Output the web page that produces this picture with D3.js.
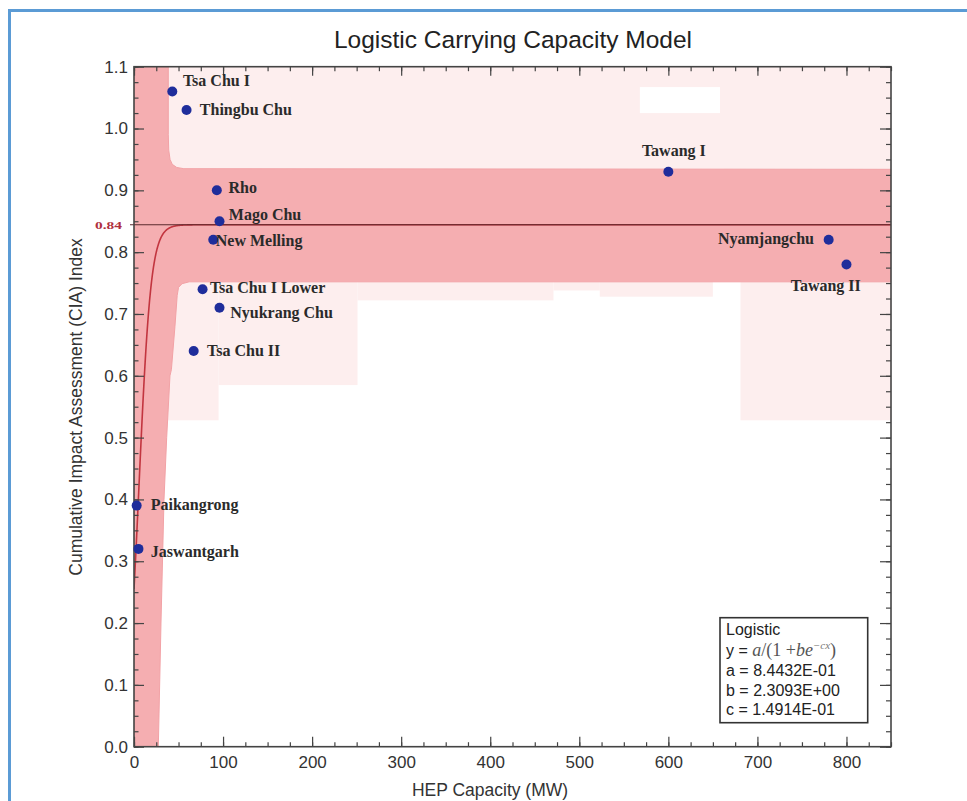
<!DOCTYPE html>
<html>
<head>
<meta charset="utf-8">
<script src="https://cdn.jsdelivr.net/npm/d3@7"></script>
<style>
  body { margin: 0; background: #fff; }
  svg { display: block; }
</style>
</head>
<body>
<svg id="chart" width="967" height="801"></svg>
<script>
// HEP projects: installed capacity (MW) against Cumulative Impact Assessment index
const projects = ["Tsa Chu I", "Thingbu Chu", "Rho", "Mago Chu", "New Melling", "Tsa Chu I Lower",
  "Nyukrang Chu", "Tsa Chu II", "Paikangrong", "Jaswantgarh", "Tawang I", "Nyamjangchu", "Tawang II"];
const capacityMW = [43, 59, 93, 96, 89, 77, 96, 67, 3, 5, 600, 780, 800];
const ciaIndex = [1.06, 1.03, 0.90, 0.85, 0.82, 0.74, 0.71, 0.64, 0.39, 0.32, 0.93, 0.82, 0.78];

// Logistic fit y = a / (1 + b e^(-c x))
const fitNames = ["a", "b", "c"];
const fitValues = [0.84432, 2.3093, 0.14914];

// Axis ticks
const xTicks = [0, 100, 200, 300, 400, 500, 600, 700, 800];
const yTicks = [0.0, 0.1, 0.2, 0.3, 0.4, 0.5, 0.6, 0.7, 0.8, 0.9, 1.0, 1.1];

// Prediction band outline (upper edge, then lower edge)
const bandUpperX = [38.5, 38.5, 39, 40.5, 43, 48, 56, 850];
const bandUpperY = [1.1, 0.99, 0.965, 0.95, 0.942, 0.937, 0.935, 0.934];
const bandLowerX = [850, 62, 54, 50, 48.5, 46, 42, 40.4, 36.7, 33.7, 30.3, 27.3];
const bandLowerY = [0.752, 0.752, 0.749, 0.743, 0.73, 0.68, 0.61, 0.6, 0.5, 0.4, 0.2, 0.0];

// Outer (lighter) shaded blocks
const shadeX0 = [0, 27, 95, 251, 471, 523, 681];
const shadeX1 = [850, 95, 251, 471, 523, 650, 850];
const shadeY0 = [0.934, 0.528, 0.585, 0.722, 0.738, 0.728, 0.528];
const shadeY1 = [1.1, 0.752, 0.752, 0.752, 0.752, 0.752, 0.752];
// Unshaded gap inside the upper block
const gapX0 = [568], gapX1 = [658], gapY0 = [1.025], gapY1 = [1.067];

// Label placement relative to each point (pixels)
const labelLayout = {
  "Tsa Chu I": [10.6, -10.4, "start"],
  "Thingbu Chu": [13.3, 0, "start"],
  "Rho": [11.6, -2.4, "start"],
  "Mago Chu": [9.3, -6.6, "start"],
  "New Melling": [2.5, 1, "start"],
  "Tsa Chu I Lower": [7.3, -1.6, "start"],
  "Nyukrang Chu": [10.7, 4.6, "start"],
  "Tsa Chu II": [13.4, 0, "start"],
  "Paikangrong": [14, -1, "start"],
  "Jaswantgarh": [12.4, 2.4, "start"],
  "Tawang I": [5.5, -20.7, "middle"],
  "Nyamjangchu": [-14.7, -1.4, "end"],
  "Tawang II": [-20.7, 21.4, "middle"]
};

const svg = d3.select("#chart");
const sans = "'Liberation Sans', Arial, Helvetica, sans-serif";
const serif = "'Liberation Serif', 'Times New Roman', serif";

const pLeft = 134, pRight = 891, pTop = 66.7, pBottom = 746.7;
const x = d3.scaleLinear().domain([0, 850]).range([pLeft, pRight]);
const y = d3.scaleLinear().domain([0, 1.1]).range([pBottom, pTop]);

// Page frame
svg.append("rect").attr("width", 967).attr("height", 801).attr("fill", "#fff");
svg.append("path")
  .attr("d", "M9.5,801 V10.5 H967")
  .attr("fill", "none").attr("stroke", "#5b9bd5").attr("stroke-width", 3);

// Title
svg.append("text")
  .attr("x", 513).attr("y", 48)
  .attr("text-anchor", "middle")
  .attr("font-family", sans).attr("font-size", 24.5).attr("fill", "#222")
  .text("Logistic Carrying Capacity Model");

svg.append("defs").append("clipPath").attr("id", "plotClip")
  .append("rect").attr("x", pLeft).attr("y", pTop)
  .attr("width", pRight - pLeft).attr("height", pBottom - pTop);

const plot = svg.append("g").attr("clip-path", "url(#plotClip)");

// Light shaded blocks
plot.selectAll("rect.shade").data(shadeX0.map((d, i) => i)).join("rect")
  .attr("class", "shade")
  .attr("x", i => x(shadeX0[i]))
  .attr("width", i => x(shadeX1[i]) - x(shadeX0[i]))
  .attr("y", i => y(shadeY1[i]))
  .attr("height", i => y(shadeY0[i]) - y(shadeY1[i]))
  .attr("fill", "#fdeeee");

plot.selectAll("rect.gap").data(gapX0.map((d, i) => i)).join("rect")
  .attr("class", "gap")
  .attr("x", i => x(gapX0[i]))
  .attr("width", i => x(gapX1[i]) - x(gapX0[i]))
  .attr("y", i => y(gapY1[i]))
  .attr("height", i => y(gapY0[i]) - y(gapY1[i]))
  .attr("fill", "#fff");

// Prediction band
const bandPts = [[0, 0], [0, 1.1]]
  .concat(bandUpperX.map((v, i) => [v, bandUpperY[i]]))
  .concat(bandLowerX.map((v, i) => [v, bandLowerY[i]]));
const bandLine = d3.line().x(d => x(d[0])).y(d => y(d[1])).curve(d3.curveLinear);
plot.append("path")
  .attr("d", bandLine(bandPts) + "Z")
  .attr("fill", "#f5aeb1")
  .attr("stroke", "#f2a2a6").attr("stroke-width", 1);

// Fitted curve and its asymptote
const [a, b, c] = fitValues;
const asym = a;
svg.append("line")
  .attr("x1", x(0) - 4).attr("x2", x(850))
  .attr("y1", y(asym)).attr("y2", y(asym))
  .attr("stroke", "#5a2a2e").attr("stroke-width", 1.2);

const curveX = d3.range(0, 850.01, 0.25);
plot.append("path")
  .datum(curveX)
  .attr("d", d3.line().x(d => x(d)).y(d => y(a / (1 + b * Math.exp(-c * d)))))
  .attr("fill", "none")
  .attr("stroke", "#c2353f").attr("stroke-width", 1.6);

svg.append("text")
  .attr("x", 122).attr("y", y(asym) + 4)
  .attr("text-anchor", "end")
  .attr("font-family", serif).attr("font-weight", "bold")
  .attr("font-size", 11).attr("fill", "#b03040")
  .attr("textLength", 27).attr("lengthAdjust", "spacingAndGlyphs")
  .text(d3.format(".2f")(asym));

// Axes: major and minor ticks drawn inward on all four sides
const axisColor = "#444";
function styleAxis(g) {
  g.select(".domain").remove();
  g.selectAll(".tick line").attr("stroke", axisColor).attr("stroke-width", 1.2);
  g.selectAll(".tick text").attr("font-family", sans).attr("font-size", 17).attr("fill", "#333");
}
const xMinor = d3.range(0, 851, 25);
const yMinor = d3.range(0, 1.1001, 0.025);

svg.append("g").attr("transform", `translate(0,${pBottom})`)
  .call(d3.axisBottom(x).tickValues(xMinor).tickSizeInner(-4.5).tickSizeOuter(0).tickFormat(""))
  .call(styleAxis);
svg.append("g").attr("transform", `translate(0,${pBottom})`)
  .call(d3.axisBottom(x).tickValues(xTicks).tickSizeInner(-10).tickSizeOuter(0).tickPadding(9).tickFormat(d3.format("d")))
  .call(styleAxis);
svg.append("g").attr("transform", `translate(0,${pTop})`)
  .call(d3.axisTop(x).tickValues(xMinor).tickSizeInner(-4.5).tickSizeOuter(0).tickFormat(""))
  .call(styleAxis);
svg.append("g").attr("transform", `translate(0,${pTop})`)
  .call(d3.axisTop(x).tickValues(xTicks).tickSizeInner(-9).tickSizeOuter(0).tickFormat(""))
  .call(styleAxis);

svg.append("g").attr("transform", `translate(${pLeft},0)`)
  .call(d3.axisLeft(y).tickValues(yMinor).tickSizeInner(-4.5).tickSizeOuter(0).tickFormat(""))
  .call(styleAxis);
svg.append("g").attr("transform", `translate(${pLeft},0)`)
  .call(d3.axisLeft(y).tickValues(yTicks).tickSizeInner(-10).tickSizeOuter(0).tickPadding(6).tickFormat(d3.format(".1f")))
  .call(styleAxis);
svg.append("g").attr("transform", `translate(${pRight},0)`)
  .call(d3.axisRight(y).tickValues(yMinor).tickSizeInner(-5).tickSizeOuter(0).tickFormat(""))
  .call(styleAxis);
svg.append("g").attr("transform", `translate(${pRight},0)`)
  .call(d3.axisRight(y).tickValues(yTicks).tickSizeInner(-11).tickSizeOuter(0).tickFormat(""))
  .call(styleAxis);

// Plot frame
svg.append("rect")
  .attr("x", pLeft).attr("y", pTop)
  .attr("width", pRight - pLeft).attr("height", pBottom - pTop)
  .attr("fill", "none").attr("stroke", axisColor).attr("stroke-width", 1.6);

// Axis titles
svg.append("text")
  .attr("transform", `translate(82,407) rotate(-90)`)
  .attr("text-anchor", "middle")
  .attr("font-family", sans).attr("font-size", 17.5).attr("fill", "#333")
  .text("Cumulative Impact Assessment (CIA) Index");
svg.append("text")
  .attr("x", 490).attr("y", 796)
  .attr("text-anchor", "middle")
  .attr("font-family", sans).attr("font-size", 17.5).attr("fill", "#333")
  .text("HEP Capacity (MW)");

// Project points
const idx = projects.map((d, i) => i);
svg.append("g").selectAll("circle").data(idx).join("circle")
  .attr("cx", i => x(capacityMW[i]))
  .attr("cy", i => y(ciaIndex[i]))
  .attr("r", 5)
  .attr("fill", "#1f2d9b");

svg.append("g").selectAll("text").data(idx).join("text")
  .attr("x", i => x(capacityMW[i]) + labelLayout[projects[i]][0])
  .attr("y", i => y(ciaIndex[i]) + labelLayout[projects[i]][1])
  .attr("dy", "0.33em")
  .attr("text-anchor", i => labelLayout[projects[i]][2])
  .attr("font-family", serif).attr("font-weight", "bold")
  .attr("font-size", 16).attr("fill", "#2a2a2a")
  .text(i => projects[i]);

// Fit legend box
const lg = svg.append("g");
lg.append("rect")
  .attr("x", 720).attr("y", 617.7).attr("width", 147.7).attr("height", 105)
  .attr("fill", "#fff").attr("stroke", "#333").attr("stroke-width", 1.6);
const lineY = [635, 655.5, 675.5, 695.5, 715];
lg.append("text").attr("x", 726).attr("y", lineY[0])
  .attr("font-family", sans).attr("font-size", 16).attr("fill", "#222").text("Logistic");

const eq = lg.append("text").attr("x", 726).attr("y", lineY[1])
  .attr("font-family", sans).attr("font-size", 16).attr("fill", "#222");
eq.append("tspan").text("y = ");
eq.append("tspan").attr("font-family", serif).attr("font-size", 18).attr("font-style", "italic").attr("fill", "#555").text("a");
eq.append("tspan").attr("font-family", serif).attr("font-size", 18).attr("fill", "#555").text("/(1 +");
eq.append("tspan").attr("font-family", serif).attr("font-size", 18).attr("font-style", "italic").attr("fill", "#555").text("be");
eq.append("tspan").attr("font-family", serif).attr("font-style", "italic").attr("fill", "#777")
  .attr("font-size", 11).attr("dy", -7).text("\u2212cx");
eq.append("tspan").attr("font-family", serif).attr("font-size", 18).attr("fill", "#555").attr("dy", 7).text(")");

function sci(v) {
  const [m, e] = v.toExponential(4).split("e");
  const n = parseInt(e, 10);
  return m + "E" + (n < 0 ? "-" : "+") + String(Math.abs(n)).padStart(2, "0");
}
fitNames.forEach((nm, i) => {
  lg.append("text").attr("x", 726).attr("y", lineY[i + 2])
    .attr("font-family", sans).attr("font-size", 16).attr("fill", "#222")
    .text(`${nm} = ${sci(fitValues[i])}`);
});
</script>
</body>
</html>
